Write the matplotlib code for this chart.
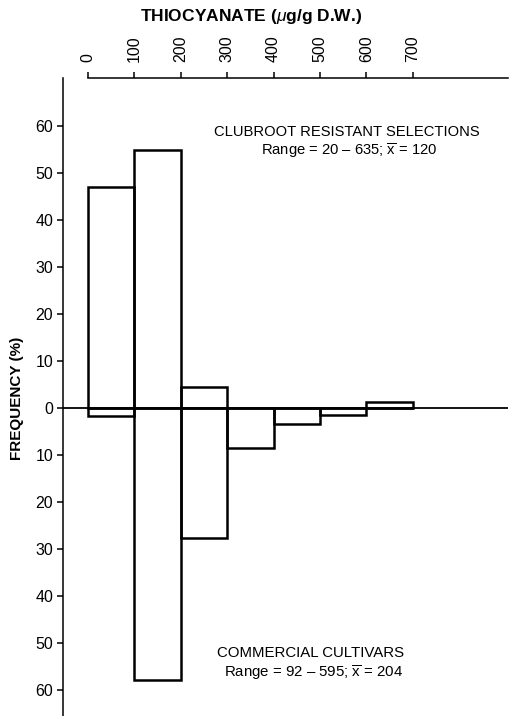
import matplotlib.pyplot as plt

plt.rcParams["font.family"] = ["Liberation Sans", "DejaVu Sans"]
plt.rcParams["mathtext.fontset"] = "custom"
plt.rcParams["mathtext.rm"] = "Liberation Sans"
plt.rcParams["mathtext.it"] = "Liberation Sans:italic"

# thiocyanate bins (lower edge, ug/g D.W.) and frequencies (%)
bin_edges = [0, 100, 200, 300, 400, 500, 600]
bin_width = 100
resistant = [47, 55, 4.5, 0, 0, 0, 1.3]
commercial = [1.7, 57.8, 27.6, 8.5, 3.4, 1.5, 0]

x_ticks = [0, 100, 200, 300, 400, 500, 600, 700]
y_ticks = [-60, -50, -40, -30, -20, -10, 0, 10, 20, 30, 40, 50, 60]

XBAR = "$\\overline{\\mathrm{x}}$"


def main():
    W, H = 510, 716
    fig = plt.figure(figsize=(W / 100, H / 100), dpi=100)

    # axes box in pixel coordinates
    left, right, top, bottom = 63, 508, 78, 716
    ax = fig.add_axes([left / W, 1 - bottom / H, (right - left) / W, (bottom - top) / H])

    ax.bar(bin_edges, resistant, width=bin_width, align="edge",
           fill=False, edgecolor="black", linewidth=1.8)
    ax.bar(bin_edges, [-v for v in commercial], width=bin_width, align="edge",
           fill=False, edgecolor="black", linewidth=1.8)
    ax.axhline(0, color="black", linewidth=1.3)

    x0, px_per_100 = 88, 46.4
    ax.set_xlim((left - x0) / px_per_100 * 100, (right - x0) / px_per_100 * 100)
    y0, px_per_unit = 408, 4.7
    ax.set_ylim(-(bottom - y0) / px_per_unit, (y0 - top) / px_per_unit)

    ax.spines["right"].set_visible(False)
    ax.spines["bottom"].set_visible(False)
    ax.spines["top"].set_bounds(0, ax.get_xlim()[1])
    ax.spines["top"].set_linewidth(1.1)
    ax.spines["left"].set_linewidth(1.1)

    ax.xaxis.tick_top()
    ax.set_xticks(x_ticks)
    ax.set_xticklabels([str(t) for t in x_ticks], rotation=90, fontsize=11.5)
    ax.tick_params(axis="x", direction="out", length=4.5, width=1.1, pad=7)

    ax.set_yticks(y_ticks)
    ax.set_yticklabels([str(abs(t)) for t in y_ticks], fontsize=11.5)
    ax.tick_params(axis="y", direction="out", length=4, width=1.1, pad=3)

    fig.text(251 / W, 1 - 16 / H, "THIOCYANATE ($\\mu$g/g D.W.)",
             ha="center", va="center", fontsize=12.5, fontweight="bold")
    fig.text(17 / W, 1 - 398 / H, "FREQUENCY (%)", rotation=90,
             ha="center", va="center", fontsize=11, fontweight="bold")

    fig.text(347 / W, 1 - 132 / H, "CLUBROOT RESISTANT SELECTIONS",
             ha="center", va="center", fontsize=10.6)
    fig.text(349 / W, 1 - 151 / H, "Range = 20 \u2013 635; " + XBAR + " = 120",
             ha="center", va="center", fontsize=10.6)
    fig.text(311 / W, 1 - 653 / H, "COMMERCIAL CULTIVARS",
             ha="center", va="center", fontsize=10.8)
    fig.text(313 / W, 1 - 673 / H, "Range = 92 \u2013 595; " + XBAR + " = 204",
             ha="center", va="center", fontsize=10.8)

    fig.savefig("out.png", dpi=100)
    plt.close(fig)


if __name__ == "__main__":
    main()
